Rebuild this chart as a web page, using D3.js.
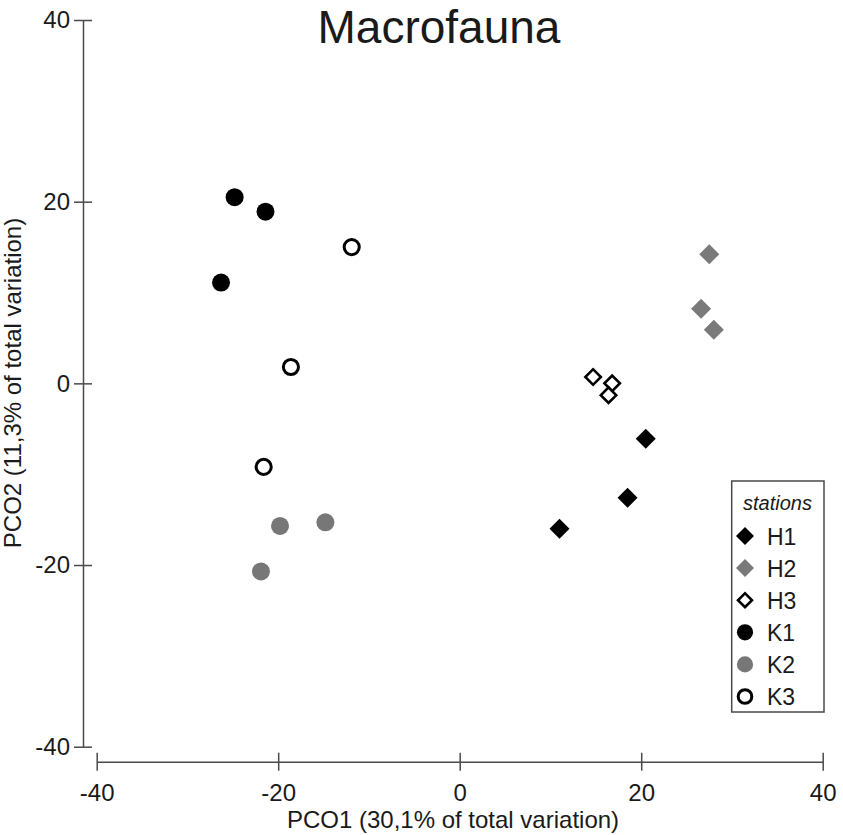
<!DOCTYPE html>
<html>
<head>
<meta charset="utf-8">
<script src="https://cdn.jsdelivr.net/npm/d3@7/dist/d3.min.js"></script>
<style>
  html, body { margin: 0; padding: 0; background: #ffffff; }
  svg { display: block; font-family: "Liberation Sans", Arial, sans-serif; }
</style>
</head>
<body>
<svg id="chart" width="843" height="835"></svg>
<script>
// PCO ordination of macrofauna samples by station
const stations = ["H1", "H2", "H3", "K1", "K2", "K3"];
const h1 = [[20.5, -6.1], [18.5, -12.6], [11.0, -16.0]];
const h2 = [[27.5, 14.2], [26.6, 8.2], [28.0, 5.9]];
const h3 = [[14.7, 0.7], [16.8, 0.0], [16.4, -1.3]];
const k1 = [[-24.8, 20.5], [-21.4, 18.9], [-26.3, 11.1]];
const k2 = [[-19.8, -15.7], [-14.8, -15.3], [-21.9, -20.7]];
const k3 = [[-11.9, 15.0], [-18.6, 1.8], [-21.6, -9.2]];
const xTicks = [-40, -20, 0, 20, 40];
const yTicks = [-40, -20, 0, 20, 40];

const seriesPoints = { H1: h1, H2: h2, H3: h3, K1: k1, K2: k2, K3: k3 };

// marker style per station: shape, fill, stroke
const markerStyle = {
  H1: { shape: "diamond", fill: "#000000", stroke: "none" },
  H2: { shape: "diamond", fill: "#7a7a7a", stroke: "none" },
  H3: { shape: "diamond", fill: "#ffffff", stroke: "#000000" },
  K1: { shape: "circle",  fill: "#000000", stroke: "none" },
  K2: { shape: "circle",  fill: "#777777", stroke: "none" },
  K3: { shape: "circle",  fill: "#ffffff", stroke: "#000000" }
};

const svg = d3.select("#chart");

const x = d3.scaleLinear().domain([-40, 40]).range([96.7, 822.7]);
const y = d3.scaleLinear().domain([-40, 40]).range([746.7, 20]);

const axisColor = "#4a4a4a";
const textColor = "#1a1a1a";
const plainNumber = d => String(d);

// title
svg.append("text")
  .attr("x", 439).attr("y", 43)
  .attr("text-anchor", "middle")
  .attr("font-size", 46)
  .attr("fill", textColor)
  .text("Macrofauna");

// x axis
const xAxisG = svg.append("g")
  .attr("transform", "translate(0,761.7)")
  .call(d3.axisBottom(x).tickValues(xTicks).tickFormat(plainNumber)
    .tickSizeInner(9).tickSizeOuter(0).tickPadding(8));
xAxisG.select(".domain").attr("stroke", axisColor).attr("stroke-width", 1.5);
xAxisG.selectAll(".tick line").attr("y1", -9).attr("y2", 9)
  .attr("stroke", axisColor).attr("stroke-width", 1.5);
xAxisG.selectAll(".tick text")
  .attr("font-size", 24).attr("fill", textColor)
  .attr("font-family", "'Liberation Sans', Arial, sans-serif")
  .attr("dy", "0.95em");

// y axis
const yAxisG = svg.append("g")
  .attr("transform", "translate(83,0)")
  .call(d3.axisLeft(y).tickValues(yTicks).tickFormat(plainNumber)
    .tickSizeInner(9).tickSizeOuter(0).tickPadding(4));
yAxisG.select(".domain").attr("stroke", axisColor).attr("stroke-width", 1.5);
yAxisG.selectAll(".tick line").attr("x1", -9).attr("x2", 9)
  .attr("stroke", axisColor).attr("stroke-width", 1.5);
yAxisG.selectAll(".tick text")
  .attr("font-size", 24).attr("fill", textColor)
  .attr("font-family", "'Liberation Sans', Arial, sans-serif");

// axis titles
svg.append("text")
  .attr("x", 453).attr("y", 828)
  .attr("text-anchor", "middle")
  .attr("font-size", 24)
  .attr("fill", textColor)
  .text("PCO1 (30,1% of total variation)");

svg.append("text")
  .attr("transform", "translate(21,383) rotate(-90)")
  .attr("text-anchor", "middle")
  .attr("font-size", 24)
  .attr("fill", textColor)
  .text("PCO2 (11,3% of total variation)");

// marker path generator
function markerPath(shape, open, scale) {
  const s = scale || 1;
  if (shape === "diamond") {
    return d3.symbol().type(d3.symbolSquare).size((open ? 120 : 200) * s * s)();
  }
  return d3.symbol().type(d3.symbolCircle).size((open ? 180 : 254) * s * s)();
}

function drawMarker(g, st, cx, cy, scale) {
  const m = markerStyle[st];
  const open = m.fill === "#ffffff";
  g.append("path")
    .attr("d", markerPath(m.shape, open, scale))
    .attr("transform", `translate(${cx},${cy})` + (m.shape === "diamond" ? " rotate(45)" : ""))
    .attr("fill", m.fill)
    .attr("stroke", m.stroke)
    .attr("stroke-width", open ? (m.shape === "diamond" ? 2.6 : 3) : 0);
}

// points
const pts = svg.append("g");
stations.forEach(st => {
  seriesPoints[st].forEach(([px, py]) => drawMarker(pts, st, x(px), y(py), 1));
});

// legend
const legend = svg.append("g");
legend.append("rect")
  .attr("x", 731.7).attr("y", 481)
  .attr("width", 92.3).attr("height", 231)
  .attr("fill", "#ffffff")
  .attr("stroke", axisColor)
  .attr("stroke-width", 1.5);
legend.append("text")
  .attr("x", 777.5).attr("y", 510)
  .attr("text-anchor", "middle")
  .attr("font-size", 20)
  .attr("font-style", "italic")
  .attr("fill", textColor)
  .text("stations");
stations.forEach((st, i) => {
  const cy = 536 + i * 32.1;
  drawMarker(legend, st, 745, cy, 0.9);
  legend.append("text")
    .attr("x", 767).attr("y", cy + 8.5)
    .attr("font-size", 23)
    .attr("fill", textColor)
    .text(st);
});
</script>
</body>
</html>
